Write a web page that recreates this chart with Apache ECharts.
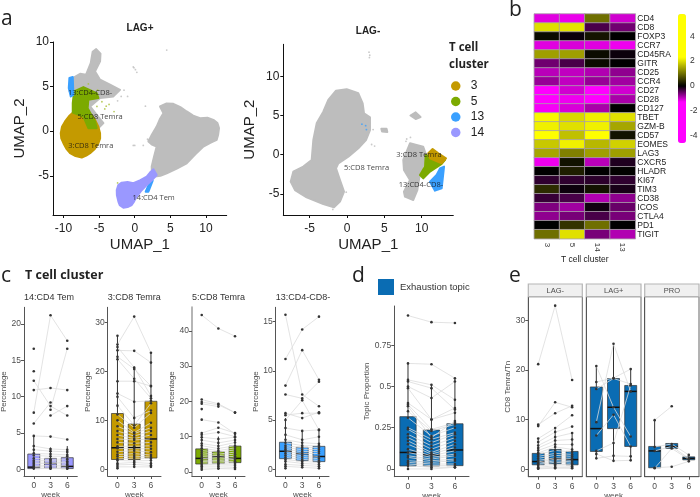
<!DOCTYPE html>
<html><head><meta charset="utf-8">
<style>html,body{margin:0;padding:0;background:#fff}#c{width:700px;height:497px}</style>
<script src="https://cdn.jsdelivr.net/npm/echarts@6/dist/echarts.min.js"></script>
</head><body><div id="c"></div>
<script>
// ---------- UMAP outlines (data units) ----------
const posGrey = [
 [[3.55,2.77],[4.4,3.1],[5.42,3.07],[6.4,2.7],[7.29,2.21],[8.2,1.75],[9.16,1.46],[10.2,1.5],[11.03,1.27],[11.6,.9],[11.82,.34],[11.7,-.4],[11.5,-.97],[10.6,-1.3],[9.63,-1.72],[8.5,-2.6],[7.29,-3.6],[5.9,-4.2],[4.49,-4.72],[3.6,-5],[2.85,-5.09],[2.4,-4.6],[2.38,-3.97],[2.7,-2.9],[3.08,-1.72],[2.4,-1.5],[1.92,-1.16],[2.4,-.4],[3.08,.52],[3.5,1.3],[4.02,2.02]],
 [[-8.69,5.96],[-7.66,6.44],[-6.82,6.33],[-6.17,7.64],[-5.9,8.9],[-5.4,9.2],[-4.8,8.7],[-4.86,7.83],[-5.56,6.7],[-4.86,5.77],[-3.46,5.21],[-2.06,4.64],[-2.99,3.9],[-4.86,3.71],[-6.26,2.77],[-5.33,1.84],[-4.39,.9],[-5.33,.15],[-6.73,2.4],[-8.36,3.52],[-8.83,5.02]]
];
const posDotsGrey = [[-.1,7.1],[.1,6.9],[.3,6.6],[-.2,7.2],[4.49,9.1],[-.2,-1.6],[0,-1.6],[1.2,-1.6],[1.9,-1.0],[1.5,2.8],[-1.9,3.9],[-1.0,3.9],[-2.7,4.6],[-1.5,4.6],[-2.4,3.4],[1.8,-.9],[2.2,-4.6],[-3.5,4.3]];
const posGold = [[[-8.5,2.2],[-7.6,2.35],[-6.73,2.2],[-6.05,1.8],[-5.56,1.27],[-5.1,.5],[-4.86,-.22],[-4.85,-.8],[-5.09,-1.35],[-5.6,-2],[-6.26,-2.47],[-6.8,-2.75],[-7.43,-2.96],[-8.3,-2.8],[-9.07,-2.47],[-9.6,-1.95],[-10,-1.35],[-10.3,-.8],[-10.37,-.22],[-10.2,.5],[-9.77,1.09],[-9.2,1.7]]];
const posGreen = [[[-8.5,4.46],[-7.2,4.94],[-5.33,4.27],[-5.09,3.71],[-6.5,3.52],[-6.6,2.58],[-5.56,1.09],[-5.33,.34],[-6.5,.34],[-7.2,1.65],[-8.69,2.1],[-8.69,3.15]]];
const posDotsGreen = [[-4,2.8],[-4.2,2.5],[-2.9,2.2],[-5.3,2.77],[-4.6,3.3],[-3.6,3.0],[-2.4,-5.8],[-6.5,5.3],[-5.2,4.6]];
const posBlue = [[[-9.16,5.96],[-8.69,6.07],[-8.6,4.08],[-8.97,3.9],[-9.25,4.83]],[[2.15,-5.66],[2.52,-5.54],[1.92,-6.78],[1.54,-6.78]]];
const posPurple = [[[-2.52,-6.59],[-2.3,-6.05],[-1.82,-5.77],[-1,-5.7],[-.19,-5.84],[.8,-5.5],[1.68,-5.09],[2.2,-4.6],[2.62,-4.27],[3.08,-4.91],[2.4,-5.5],[1.68,-6.03],[.9,-6.7],[.28,-7.34],[-.1,-7.9],[-.42,-8.28],[-1,-8.5],[-1.59,-8.58],[-2.1,-8.3],[-2.29,-7.9],[-2.5,-7.2]]];
const negGrey = [
 [[-3.17,5.49],[-2.5,7],[-1.47,8.18],[-.04,8.35],[1.52,7.84],[2.1,6.56],[2.28,5.28],[3.08,4.77],[3.08,3.15],[2.54,1.87],[1.52,.81],[.18,-.26],[-1.16,-1.11],[-1.47,-1.75],[-.94,-3.24],[-.4,-4.73],[-.94,-6.0],[-1.74,-6.73],[-3.17,-6.3],[-5.4,-5.45],[-6.96,-4.52],[-7.54,-3.45],[-7.19,-2.17],[-5.85,-1.53],[-4.73,-.68],[-4.51,1.87],[-4.06,4]],
 [[7.54,-.68],[8.44,1.45],[10.2,1.02],[10.67,-.26],[9.78,-2.39],[9.42,-4.52],[8.88,-5.79],[7.77,-5.37],[7.63,-4.73],[8.44,-3.24],[7.63,-1.96]],
 [[8.5,5.0],[9.2,5.4],[9.85,4.8],[9.2,4.55]],
 [[4.6,3.3],[5.3,3.3],[5.4,2.9],[4.7,2.95]]
];
const negDotsGrey = [[2.95,13.1],[3.05,12.7],[3.0,12.4],[3.3,1.3],[3.7,1.1],[3.1,3.6],[3.5,3.2],[8.5,2.2],[7.9,1.7],[8.0,2.0],[-.1,-4.8],[-1.9,-7]];
const negGold = [[[10.89,.17],[11.47,.72],[12.23,.17],[13.26,-.47],[12.68,-1.11],[11.12,-.47]]];
const negGreen = [[[10.54,-.04],[11.12,-.26],[13.13,-.68],[12.68,-1.19],[11.12,-2.17],[10.22,-3.03],[9.78,-2.6],[10.45,-1.53]]];
const negBlue = [[[12.46,-1.75],[13,-1.53],[12.68,-4.3],[11.79,-4.6],[11.12,-3.45],[12.0,-2.6]]];
const negDotsBlue = [[2.5,3.7],[2.0,3.9],[2.6,3.2]];
const posLabels = [['13:CD4-CD8-',-6.26,4.27],['5:CD8 Temra',-4.86,1.57],['3:CD8 Temra',-6.17,-1.61],['14:CD4 Tem',2.66,-7.49]];
const negLabels = [['3:CD8 Temra',9.64,-.04],['5:CD8 Temra',2.63,-1.66],['13:CD4-CD8-',9.91,-3.92]];

// ---------- heatmap ----------
const heatColumns = ['3','5','14','13'];
const heatMarkers = ['CD4','CD8','FOXP3','CCR7','CD45RA','GITR','CD25','CCR4','CD27','CD28','CD127','TBET','GZM-B','CD57','EOMES','LAG3','CXCR5','HLADR','KI67','TIM3','CD38','ICOS','CTLA4','PD1','TIGIT'];
const heatValues = [
 [-1.15,-1.2,1.0,-1.06],[2.0,2.05,-.38,-.57],[.09,-.05,.18,0],[-1.14,-1.1,-1.14,-1.22],[1.44,1.44,.1,-.06],
 [-.57,-.37,.1,0],[-.94,-.98,-.9,-.73],[-.77,-.98,-.77,-.82],[-1.4,-1.06,-1.4,-1.06],[-1.4,-1.22,-1.35,-.86],
 [-1.26,-1.1,-.86,0],[2.24,1.95,2.16,2.02],[2.16,2.02,2.16,1.5],[2.4,1.73,2.4,.16],[1.8,2.16,1.66,1.88],
 [1.5,1.15,1.44,1.44],[-1.22,.16,-.94,-.16],[0,.27,0,.02],[-.24,-.24,-.22,-.24],[.4,-.06,.16,-.12],
 [-.28,-.37,-.9,-.73],[-.65,-.82,-.08,-.53],[-.73,-.61,-.37,-.61],[0,.46,1.0,0],[1.0,2.02,-.61,-.9]
];
const scaleTicks = [-4,-2,0,2,4];

// ---------- boxes: [week, min, q1, median, q3, max] ----------
const weeks = [0,3,6];
const boxCD4Tem = [[0,0,.1,.3,2.1,4.6],[3,0,.15,.8,1.5,3],[6,0,.1,.4,1.6,3.2]];
const subjCD4Tem = [[16.6,null,null],[13.5,null,null],[7.8,21.2,17.7],[12.2,8.7,7.4],[10.9,11.2,10.9],[null,7.4,8.7],[null,8.2,16.6],[6.3,9.2,null],[4.6,4.5,4.1],[3.2,2.8,2.7],[2.7,2.5,2.4],[2.2,2.1,2.0],[1.9,1.8,1.8],[1.5,1.4,1.4],[1.2,1.2,1.1],[1.0,1.0,.9],[.8,.8,.7],[.6,.5,.5],[.4,.3,.3],[.2,.1,.1],[.1,.1,.1]];
const boxCD8a = [[0,0,2,4.4,11.4,27.3],[3,.5,2,4.4,9.25,21],[6,.5,2.3,6.2,13.9,23.8]];
const subjCD8a = [[27.3,null,null],[25.5,31.2,23.8],[24.3,24.2,21.8],[25,20.8,15],[23,20.5,17],[22.5,18.5,14.5],[18,18,17],[15.5,13.8,14],[14.8,10.5,12],[13,9,13.5],[11.2,8.5,11.5],[10,7.5,9.5],[8.8,7.3,8.5],[7.8,6.8,7.8],[7,6.3,7],[6.2,6,6.2],[5.5,5.3,5.5],[4.7,4.7,4.8],[4.3,4.2,4.2],[3.6,3.8,3.5],[3,3.2,2.9],[2.6,2.7,2.5],[2.1,2.3,2.2],[1.8,1.7,1.8],[1.2,1.4,1.2],[.9,1,.8],[.5,.5,.5],[.2,null,null]];
const boxCD8b = [[0,.5,2.2,3.8,6.5,11],[3,1,2.4,4.3,5.7,10],[6,1,2.6,3.8,7.3,11]];
const subjCD8b = [[44.5,40.7,38.5],[20.5,19.3,16.8],[19.8,19,16.8],[19.3,18.5,null],[17.8,null,null],[14.8,14,10.8],[11,12.5,11],[10.5,11.2,10],[9.8,9.3,9.8],[9,8.2,9],[8,7.3,8.3],[7.4,6.6,7.4],[6.7,6,6.8],[6,5.6,6.2],[5.4,5,5.6],[4.8,4.6,5],[4.3,4.1,4.4],[3.8,3.6,3.9],[3.3,3.2,3.5],[2.9,2.8,3],[2.5,2.4,2.6],[2,2.1,2.2],[1.6,1.6,1.7],[1.1,1,1.2],[.6,.9,.8]];
const boxDN = [[0,0,1.08,1.83,2.75,5.2],[3,.2,.88,1.6,2.23,3.9],[6,0,.78,1.3,2.33,4]];
const subjDN = [[15.7,7.6,6.4],[11.2,14.2,15.5],[8.5,12.1,9.1],[7.6,7.2,8.9],[5.7,5.2,5.8],[5.5,5.7,5.7],[5.0,7.0,4.0],[4.2,3.9,4.0],[3.5,3.0,3.3],[3.0,2.7,2.6],[2.7,2.4,2.4],[2.4,2.2,2.2],[2.2,2,2],[2,1.8,1.8],[1.8,1.6,1.6],[1.6,1.4,1.3],[1.4,1.2,1.1],[1.2,1,.9],[1,.8,.7],[.8,.6,.5],[.5,.4,.3],[.3,.2,.1],[.1,null,null]];
const boxTopic = [[0,0,.018,.10,.317,.64],[3,0,.018,.085,.236,.51],[6,0,.02,.115,.274,.55]];
const subjTopic = [[.93,.89,.885],[.64,.635,.55],[.54,.51,.42],[.53,.49,.36],[.50,.43,.53],[.49,.30,.37],[.40,.30,.34],[.39,.24,.28],[.38,.19,.29],[.35,.23,.27],[.31,.20,.25],[.25,.18,.22],[.24,.16,.21],[.21,.14,.19],[.19,.12,.17],[.17,.10,.15],[.15,.09,.13],[.12,.08,.11],[.10,.07,.09],[.08,.06,.08],[.07,.05,.06],[.05,.04,.05],[.04,.03,.03],[.03,.02,.02],[.02,.01,.01],[0,0,.01]];
const boxLagNeg = [[0,0,.9,1.55,3.2,6.2],[3,0,1.1,2.1,4.0,8],[6,0,.9,1.95,3.6,7.4]];
const subjLagNeg = [[21.2,33,18],[9,11.3,12.8],[8.7,13.5,12.5],[6.2,8.3,10.9],[5.5,7.5,8.6],[4.8,6.5,7.3],[4.3,5.8,6],[3.8,5,5],[3.3,4.5,4],[3,3.8,3.5],[2.6,3.2,3],[2.2,2.8,2.6],[1.8,2.3,2.2],[1.5,2,1.8],[1.2,1.7,1.5],[1,1.4,1.2],[.7,1,.9],[.4,.7,.6],[.2,.4,.3],[.1,.2,.2]];
const boxLagPos = [[0,2.2,3.6,8.2,16.6,20.8],[3,1.7,8.2,12.5,18.3,25.3],[6,1.8,4.6,15.7,16.9,20.2]];
const subjLagPos = [[20.8,12.5,6.6],[17.6,18.4,20.2],[16.2,18.3,17.2],[9.5,25.3,15.7],[6.8,11,4.6],[3.7,5.3,16.9],[3.1,1.7,1.8],[2.2,2.7,2.6]];
const boxPro = [[0,.2,.3,3.7,4.6,9.9],[3,4.2,4.2,4.6,5.2,5.2],[6,1.6,1.9,2.2,2.5,2.9]];
const subjPro = [[9.9,12.7,null],[4.5,5.1,2.9],[3.7,4.6,2.2],[.3,.5,1.6],[.2,4.2,2.0]];

// ---------- assembly ----------
const SANS = '"Liberation Sans",Arial,sans-serif', OPEN = '"Open Sans",sans-serif';
const C3='#c49a00', C5='#7caa00', C13='#3aa0ff', C14='#9a98ff', GREY='#bdbdbd', BLUE='#0a6cb3';
const grids=[], xAxes=[], yAxes=[], series=[], gfx=[];
function addGrid(g,x,y){g.outerBoundsMode='none';grids.push(g);x.gridIndex=y.gridIndex=grids.length-1;xAxes.push(x);yAxes.push(y);return grids.length-1;}
function txt(t,x,y,size,o={}){gfx.push({type:'text',x,y,rotation:o.rot||0,z:50,style:{text:t,font:(o.w||'normal')+' '+size+'px '+(o.f||SANS),fill:o.c||'#222',align:o.a||'left',verticalAlign:'middle'}});}
function ticks(base,vals){return Object.assign(base,{axisTick:{show:true,length:3,lineStyle:{color:base._tc||'#333'},customValues:vals},
  axisLabel:Object.assign({customValues:vals},base._lab),splitLine:{show:false}});}
function blob(name,color,i,polys,z){series.push({type:'custom',name,xAxisIndex:i,yAxisIndex:i,z:z,silent:true,itemStyle:{color},
  renderItem(p,api){const pts=polys[p.dataIndex].map(q=>api.coord(q));return {type:'polygon',shape:{points:pts},style:{fill:color,stroke:color,lineWidth:2,lineJoin:'round'}};},
  encode:{x:0,y:1},data:polys.map(q=>q[0])});}
function dots(color,i,d,z){series.push({type:'scatter',xAxisIndex:i,yAxisIndex:i,symbolSize:1.8,silent:true,z,itemStyle:{color},data:d});}
function tags(i,list){series.push({type:'scatter',xAxisIndex:i,yAxisIndex:i,symbolSize:1,silent:true,z:20,itemStyle:{color:'transparent'},
  label:{show:true,position:'inside',formatter:p=>p.name,fontFamily:OPEN,fontSize:7.5,color:'#111'},data:list.map(l=>({name:l[0],value:[l[1],l[2]]}))});}
function umap(left,right,top,bottom,xr,yr,xt,yt){
  const lab={fontFamily:SANS,fontSize:12,color:'#222',margin:4};
  const ax={type:'value',axisLine:{show:true,onZero:false,lineStyle:{color:'#111',width:1}},_tc:'#111',nameLocation:'middle',nameTextStyle:{fontFamily:SANS,fontSize:15,color:'#222'}};
  const x=ticks(Object.assign({},ax,{_lab:Object.assign({},lab,{margin:8}),min:xr[0],max:xr[1],name:'UMAP_1',nameGap:22.5}),xt);
  const y=ticks(Object.assign({},ax,{_lab:lab,min:yr[0],max:yr[1],name:'UMAP_2',nameGap:26}),yt);
  return addGrid({left,top,width:right-left,height:bottom-top},x,y);
}
const a1=umap(53,226.7,42,215,[-11.46,12.9],[-9.4,10],[-10,-5,0,5,10],[-5,0,5,10]);
blob('grey',GREY,a1,posGrey,2);dots(GREY,a1,posDotsGrey,2);
blob('3',C3,a1,posGold,3);blob('5',C5,a1,posGreen,4);dots('#a9bf3a',a1,posDotsGreen,4);
blob('13',C13,a1,posBlue,5);blob('14',C14,a1,posPurple,5);tags(a1,posLabels);
const a2=umap(283.3,453.3,44.3,215,[-8.53,14.24],[-7.71,14.1],[-5,0,5,10],[-5,0,5,10]);
blob('grey',GREY,a2,negGrey,2);dots(GREY,a2,negDotsGrey,2);
blob('13',C13,a2,negBlue,3);blob('5',C5,a2,negGreen,4);blob('3',C3,a2,negGold,5);dots(C13,a2,negDotsBlue,3);tags(a2,negLabels);

txt('LAG+',140,28,10,{w:'bold',a:'center'});txt('LAG-',368,31,10,{w:'bold',a:'center'});
txt('T cell',449,48,11.5,{w:'bold',f:OPEN});txt('cluster',449,65,11.5,{w:'bold',f:OPEN});
txt('a',1,19,21,{f:OPEN});txt('b',509,10,21,{f:OPEN});txt('c',1,276,21,{f:OPEN});txt('d',352,276,21,{f:OPEN});txt('e',509,276,21,{f:OPEN});
txt('T cell cluster',25,275,12.5,{w:'bold',f:OPEN});

// heatmap
const noAxis={axisLine:{show:false},axisTick:{show:false},splitLine:{show:false}};
const hm=addGrid({left:534.3,top:14,width:101,height:224.7},
 Object.assign({type:'category',data:heatColumns,name:'T cell cluster',nameLocation:'middle',nameGap:15.5,nameTextStyle:{fontFamily:SANS,fontSize:8.5,color:'#222'},
   axisLabel:{rotate:-90,fontFamily:SANS,fontSize:8,color:'#333',margin:4}},noAxis),
 Object.assign({type:'category',inverse:true,position:'right',data:heatMarkers,axisLabel:{fontFamily:SANS,fontSize:8.5,color:'#222',margin:2,interval:0}},noAxis));
const heatIndex=series.length;
series.push({type:'heatmap',xAxisIndex:hm,yAxisIndex:hm,silent:true,itemStyle:{borderColor:'#a8a0a8',borderWidth:.8},
 data:heatValues.flatMap((row,r)=>row.map((v,c)=>[c,r,v]))});
const cb=addGrid({left:678,top:14,width:8,height:129},{type:'value',show:false,min:0,max:1},
 {type:'value',position:'right',min:-4.6,max:5.8,axisLine:{show:false},axisTick:{show:false},splitLine:{show:false},
  axisLabel:{customValues:scaleTicks,fontFamily:SANS,fontSize:8.5,color:'#333',margin:4}});
const ramp=[];for(let k=0;k<=104;k++){const v=-4.6+k*.1;
 if(v<0){const t=Math.min(1,-v/1.3),h=Math.round(255*t);ramp.push(`rgb(${h},0,${h})`);}
 else{const t=Math.min(1,v/2.3),h=Math.round(255*t);ramp.push(`rgb(${h},${h},0)`);}}

// box panels
function panel(o){
 const axC=o.spine||'#555';
 const lab={fontFamily:SANS,fontSize:8.5,color:'#4d4d4d',margin:3};
 const x=ticks({type:'value',min:-1.75,max:7.8,axisLine:{show:true,onZero:false,lineStyle:{color:'#555',width:1}},_tc:'#555',_lab:Object.assign({},lab,{margin:5}),
   name:o.week?'week':'',nameLocation:'middle',nameGap:14,nameTextStyle:{fontFamily:SANS,fontSize:8,color:'#4d4d4d'}},weeks);
 const y=ticks({type:'value',min:o.y[0],max:o.y[1],axisLine:{show:true,onZero:false,lineStyle:{color:axC,width:o.spineW||1}},_tc:'#555',_lab:lab,
   name:o.yName||'',nameLocation:'middle',nameGap:o.gap||18,nameTextStyle:{fontFamily:SANS,fontSize:8,color:'#4d4d4d'}},o.yt);
 const g=Object.assign({left:o.l,width:o.r-o.l,top:o.top||307.3,height:(o.bot||476)-(o.top||307.3)},o.frame?{show:true,borderColor:'#666',borderWidth:1}:{});
 const i=addGrid(g,x,y);
 const w=o.bw||12;
 series.push({type:'custom',name:o.name,xAxisIndex:i,yAxisIndex:i,z:3,silent:true,itemStyle:{color:o.color},encode:{x:0,y:[1,2,3,4,5]},data:o.box,
  renderItem(p,api){
   const X=api.value(0),c=v=>api.coord([X,v]);
   const mn=c(api.value(1)),q1=c(api.value(2)),md=c(api.value(3)),q3=c(api.value(4)),mx=c(api.value(5)),s={stroke:'#333',lineWidth:1};
   return {type:'group',children:[
    {type:'line',shape:{x1:mn[0],y1:mn[1],x2:q1[0],y2:q1[1]},style:s},
    {type:'line',shape:{x1:mx[0],y1:mx[1],x2:q3[0],y2:q3[1]},style:s},
    {type:'rect',shape:{x:q3[0]-w/2,y:q3[1],width:w,height:q1[1]-q3[1]},style:{fill:o.color,stroke:'#333',lineWidth:.7}},
    {type:'line',shape:{x1:md[0]-w/2,y1:md[1],x2:md[0]+w/2,y2:md[1]},style:{stroke:'#111',lineWidth:1.5}}
   ]};
  }});
 o.subj.forEach(s=>series.push({type:'line',xAxisIndex:i,yAxisIndex:i,z:4,silent:true,symbol:'circle',symbolSize:2.6,showSymbol:true,
   lineStyle:{color:'#dcdcdc',width:.8},itemStyle:{color:'#333'},data:s.map((v,k)=>[weeks[k],v])}));
 if(o.title)txt(o.title,o.l,298,9,{c:'#333'});
 return i;
}
panel({l:24,r:77.3,y:[-.92,22.3],yt:[0,5,10,15,20],title:'14:CD4 Tem',color:C14,box:boxCD4Tem,subj:subjCD4Tem,yName:'Percentage',week:1,gap:11});
panel({l:107.7,r:161,y:[-1.37,33.1],yt:[0,10,20,30],title:'3:CD8 Temra',color:C3,box:boxCD8a,subj:subjCD8a,yName:'Percentage',week:1,gap:11});
panel({l:192,r:245,y:[-1.2,46.7],yt:[0,10,20,30,40],title:'5:CD8 Temra',color:C5,box:boxCD8b,subj:subjCD8b,yName:'Percentage',week:1,gap:12,spine:'#b5b5b5',spineW:2});
panel({l:275.7,r:329,y:[-.68,16.45],yt:[0,5,10,15],title:'13:CD4-CD8-',color:C13,box:boxDN,subj:subjDN,yName:'Percentage',week:1,gap:11.5});
panel({l:394.3,r:469,top:306,bot:476.7,y:[-.047,.988],yt:[0,.25,.5,.75],color:BLUE,name:'Exhaustion topic',box:boxTopic,subj:subjTopic,yName:'Topic Proportion',week:1,gap:19,bw:16.3});
const eTop=296.7,eBot=476.7;
panel({l:528.3,r:582.3,top:eTop,bot:eBot,y:[-1.5,34.8],yt:[0,10,20,30],color:BLUE,box:boxLagNeg,subj:subjLagNeg,yName:'CD8 Temra/Tn',gap:12,frame:1});
panel({l:586.3,r:641,top:eTop,bot:eBot,y:[-1.5,34.8],yt:[],color:BLUE,box:boxLagPos,subj:subjLagPos,week:1,frame:1});
panel({l:644.7,r:699,top:eTop,bot:eBot,y:[-1.5,34.8],yt:[],color:BLUE,box:boxPro,subj:subjPro,frame:1});
[['LAG-',528.3,582.3],['LAG+',586.3,641],['PRO',644.7,699]].forEach(s=>{
 gfx.push({type:'rect',shape:{x:s[1],y:284,width:s[2]-s[1],height:12.7},z:40,style:{fill:'#f0f0f0',stroke:'#b5b5b5',lineWidth:1.2}});
 txt(s[0],(s[1]+s[2])/2,290.5,7.5,{a:'center',c:'#4d4d4d'});
});

const chart=echarts.init(document.getElementById('c'),null,{renderer:'canvas'});
chart.setOption({animation:false,backgroundColor:'#fff',grid:grids,xAxis:xAxes,yAxis:yAxes,series,
 graphic:{elements:gfx},
 legend:[
  {left:451,top:79,orient:'vertical',selectedMode:false,icon:'circle',itemWidth:12,itemHeight:9.5,itemGap:1.5,padding:0,
   data:['3','5','13','14'],textStyle:{fontFamily:SANS,fontSize:12,color:'#222',padding:[0,0,0,4],height:14,lineHeight:14}},
  {left:378,top:279,selectedMode:false,padding:0,itemWidth:16,itemHeight:16,itemGap:4,
   data:[{name:'Exhaustion topic',icon:'rect',itemStyle:{color:BLUE}}],textStyle:{fontFamily:SANS,fontSize:9.5,color:'#333',padding:[0,0,0,1]}}
 ],
 visualMap:{type:'continuous',seriesIndex:heatIndex,min:-4.6,max:5.8,left:678,top:14,itemWidth:8,itemHeight:129,padding:0,calculable:false,hoverLink:false,realtime:false,text:null,inRange:{color:ramp}}
});
</script></body></html>
